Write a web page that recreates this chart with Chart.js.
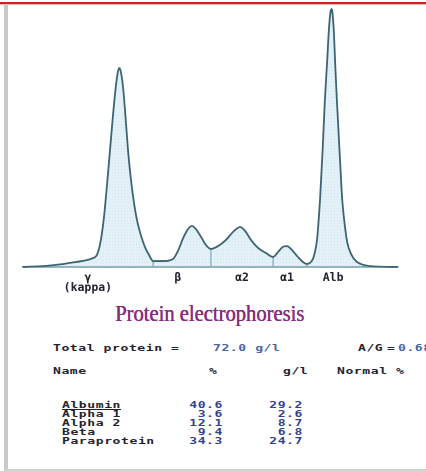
<!DOCTYPE html>
<html><head><meta charset="utf-8">
<script src="https://cdn.jsdelivr.net/npm/chart.js@4"></script>
<style>
html,body{margin:0;padding:0;background:#fff;width:426px;height:471px;overflow:hidden;}
#wrap{position:relative;width:426px;height:471px;overflow:hidden;}
#cv{position:absolute;left:0;top:0;}
.t{position:absolute;font-family:'DejaVu Sans Mono',monospace;font-weight:bold;font-size:9px;line-height:10px;letter-spacing:0.4px;color:#23232f;white-space:pre;transform:scaleX(1.45);transform-origin:left center;}
.b{color:#33428f;}
.lb{color:#4a64a6;}
.r{text-align:right;transform-origin:right center;}
#title{position:absolute;left:115px;top:302px;font-family:'Liberation Serif',serif;font-size:21px;line-height:24px;color:#8a2b7f;white-space:pre;transform:scaleX(0.98) scaleY(1.06);transform-origin:left center;text-shadow:0.4px 0 0 #8a2b7f;}
#red{position:absolute;left:0;top:2px;width:426px;height:2px;background:#cc2222;}
#pink{position:absolute;left:0;top:4px;width:426px;height:1px;background:#f2b7b7;}
#gbar{position:absolute;left:4px;top:5px;width:4px;height:466px;background:#c9c9c9;}
#gbot{position:absolute;left:4px;top:469px;width:422px;height:2px;background:#d2d2d2;}
</style></head>
<body><div id="wrap">
<canvas id="cv" width="426" height="300"></canvas>
<div id="red"></div><div id="pink"></div><div id="gbar"></div><div id="gbot"></div>
<div id="title">Protein electrophoresis</div>
<div id="table"></div>
</div>
<script>
// densitometry trace (mobility, relative absorbance)
const mobility = [0,5.9,9.9,12.5,15.7,18.4,19.7,20.5,21.1,21.6,22.4,23.2,24.0,24.8,25.3,25.7,26.1,26.7,27.3,28.0,28.8,29.6,30.4,31.5,32.5,33.6,34.7,37.3,40.0,41.3,42.7,44.0,45.1,46.1,47.5,48.8,50.1,52.0,54.1,56.3,57.9,59.2,60.8,62.7,64.8,66.7,68.0,69.3,70.4,71.7,73.3,74.7,75.7,76.5,77.3,77.9,78.4,78.8,79.2,79.9,80.5,81.1,81.6,82.0,82.3,82.5,82.9,83.3,83.7,84.4,85.1,85.9,86.5,87.5,88.8,90.4,93.9,100];
const absorbance = [0,0.4,1.0,1.6,2.3,3.3,4.7,8.5,13.6,19.4,31.8,45.3,58.9,70.5,75.6,77.1,75.6,69.4,58.9,45.3,33.7,24.8,18.2,12.0,7.8,4.7,2.3,2.3,3.1,6.2,11.2,14.7,15.9,14.7,11.6,8.5,7.0,8.1,10.5,14.0,15.5,14.0,10.5,7.4,5.4,3.9,5.8,7.8,8.1,6.6,3.9,1.9,1.2,1.6,3.1,6.2,10.5,17.4,26.0,45.3,64.7,79.5,92.6,98.8,100,98.8,91.1,77.1,64.7,45.3,26.7,15.1,9.3,5.0,2.3,1.0,0.2,0];
// fraction cut positions and trace height at the cut
const cutPos = [34.7,50.1,66.7,75.7];
const cutHeight = [2.3,7.0,3.9,1.2];
// band labels under the trace
const bandLabels = [['γ','(kappa)'],'β','α2','α1','Alb'];
const bandPos = [17.3,41.3,58.4,70.4,82.7];
// report table
const fractionNames = ['Albumin','Alpha 1','Alpha 2','Beta','Paraprotein'];
const fractionPct = ['40.6','3.6','12.1','9.4','34.3'];
const fractionGl = ['29.2','2.6','8.7','6.8','24.7'];
const totalProtein = '72.0 g/l';
const agRatio = '0.68';

// ---- text part
const tbl = document.getElementById('table');
function put(txt, left, cy, cls, width){
  const d = document.createElement('div');
  d.className = 't' + (cls ? ' ' + cls : '');
  d.textContent = txt;
  d.style.top = (cy - 5) + 'px';
  if (width) { d.style.width = width + 'px'; d.style.left = (left - width) + 'px'; d.classList.add('r'); }
  else d.style.left = left + 'px';
  tbl.appendChild(d);
  return d;
}
put('Total protein =', 53, 348);
put(totalProtein, 213, 348, 'lb');
put('A/G', 358, 348);
put('=', 387, 348);
put(agRatio, 398, 348, 'lb');
put('Name', 53, 371);
put('%', 209, 371);
put('g/l', 283, 371);
put('Normal %', 337, 371);
const rowY = [404.5,413.5,422.5,431.5,440.5];
fractionNames.forEach((n,i)=>{
  const d = put(n, 62, rowY[i]);
  if (i === 0) d.style.textDecoration = 'underline';
  put(fractionPct[i], 223, rowY[i], 'b', 60);
  put(fractionGl[i], 303, rowY[i], 'b', 60);
});

// ---- chart part
const pc = document.createElement('canvas');
pc.width = 3; pc.height = 3;
const px = pc.getContext('2d');
px.fillStyle = 'rgba(200,228,241,0.5)'; px.fillRect(0,0,3,3);
px.fillStyle = 'rgba(140,160,175,0.2)'; px.fillRect(1,1,1,1);
const ctx = document.getElementById('cv').getContext('2d');
const pattern = ctx.createPattern(pc, 'repeat');

const trace = mobility.map((m,i)=>({x:m, y:absorbance[i]}));
const cuts = [];
cutPos.forEach((p,i)=>{ cuts.push({x:p,y:0},{x:p,y:cutHeight[i]},{x:p,y:null}); });

new Chart(ctx, {
  type: 'line',
  data: { datasets: [
    { data: trace, borderColor:'#3d6472', borderWidth:1.8, backgroundColor: pattern, fill:'origin',
      pointRadius:0, tension:0.4, cubicInterpolationMode:'monotone', clip:false },
    { data: cuts, borderColor:'#4a7280', borderWidth:1.3, fill:false, pointRadius:0, tension:0, spanGaps:false }
  ]},
  options: {
    responsive:false, animation:false, devicePixelRatio: 2,
    layout: { padding: { left:23, right:28, top:9, bottom:0 } },
    plugins: { legend:{display:false}, tooltip:{enabled:false} },
    scales: {
      x: { type:'linear', min:0, max:100,
        grid:{display:false, drawTicks:false},
        border:{display:true, color:'#5a8795', width:1.6},
        afterBuildTicks: (s)=>{ s.ticks = bandPos.map(v=>({value:v})); },
        afterFit: (s)=>{ s.height = 33; },
        ticks:{ autoSkip:false, maxRotation:0, minRotation:0, padding:6, color:'#22222c',
          font:{family:'DejaVu Sans Mono', weight:'bold', size:11.5, lineHeight:0.87},
          callback:(v,i)=>bandLabels[i] }
      },
      y: { display:false, min:0, max:100 }
    }
  }
});
</script>
</body></html>
